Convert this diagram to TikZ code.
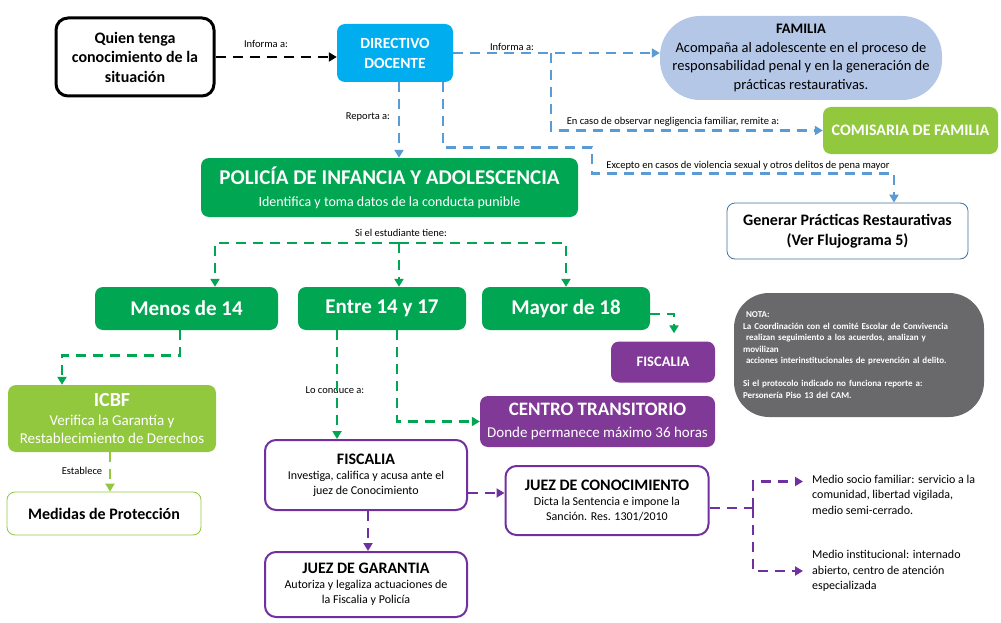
\documentclass[tikz,border=0pt]{standalone}
\usepackage{fontspec}
\setmainfont{Carlito}
\usetikzlibrary{arrows.meta}
\definecolor{verde}{RGB}{0,166,81}
\definecolor{lima}{RGB}{146,200,62}
\definecolor{morado}{RGB}{128,57,150}
\definecolor{lila}{RGB}{112,48,160}
\definecolor{azul}{RGB}{91,155,213}
\definecolor{cian}{RGB}{0,174,239}
\definecolor{celeste}{RGB}{180,199,231}
\definecolor{gris}{RGB}{105,105,107}
\definecolor{borde}{RGB}{65,113,156}

\begin{document}
\begin{tikzpicture}[x=1pt, y=-1pt,
  caja/.style={rounded corners=8pt, inner sep=0pt, align=center},
  llena/.style={caja, text=white},
  marco/.style={caja, draw=lila, line width=2pt, rounded corners=11pt, minimum width=202pt, font=\fontsize{12}{15}\selectfont},
  linea/.style={line width=2.8pt, dash pattern=on 10pt off 7pt},
  flecha/.style={linea, -{Triangle[length=8pt,width=9pt]}},
  etiq/.style={font=\fontsize{10.5}{12}\selectfont, inner sep=1pt},
  texto/.style={anchor=west, align=left, inner sep=0pt, inner xsep=9pt, font=\fontsize{12}{15.5}\selectfont}]
\useasboundingbox (0,0) rectangle (1001,623);

\node (q) [caja, draw, line width=3pt, rounded corners=12pt, minimum width=158pt, minimum height=78pt, font=\fontsize{16}{19.5}\selectfont\bfseries] at (135,57) {Quien tenga\\conocimiento de la\\situación};
\node (dd) [llena, fill=cian, minimum width=116pt, minimum height=58pt, font=\fontsize{15.5}{20}\selectfont\bfseries] at (395,53) {DIRECTIVO\\DOCENTE};
\node (fam) [caja, fill=celeste, rounded corners=40pt, minimum width=282pt, minimum height=84pt, font=\fontsize{14.5}{18.7}\selectfont] at (801,58) {{\bfseries FAMILIA}\\Acompaña al adolescente en el proceso de\\responsabilidad penal y en la generación de\\prácticas restaurativas.};
\node (com) [llena, fill=lima, minimum width=175pt, minimum height=47pt, font=\fontsize{16}{19}\selectfont\bfseries] at (910.5,130.5) {COMISARIA DE FAMILIA};
\node (gpr) [caja, draw=borde, line width=0.8pt, fill=white, minimum width=241pt, minimum height=56pt, font=\fontsize{16}{20}\selectfont\bfseries] at (847.5,231) {Generar Prácticas Restaurativas\\(Ver Flujograma 5)};
\node (pol) [llena, fill=verde, minimum width=377pt, minimum height=59pt, font=\fontsize{14}{22}\selectfont] at (389.5,187.5) {{\fontsize{21}{22}\selectfont\bfseries POLICÍA DE INFANCIA Y ADOLESCENCIA}\\Identifica y toma datos de la conducta punible};

\node (m14) [llena, fill=verde, minimum width=183pt, minimum height=43pt, font=\fontsize{21}{24}\selectfont\bfseries] at (186.5,308.5) {Menos de 14};
\node (e14) [llena, fill=verde, minimum width=168pt, minimum height=43pt, font=\fontsize{21}{24}\selectfont\bfseries] at (382,308.5) {Entre 14 y 17};
\node (m18) [llena, fill=verde, minimum width=168pt, minimum height=43pt, font=\fontsize{21}{24}\selectfont\bfseries] at (566,308.5) {Mayor de 18};

\node (fis1) [llena, fill=morado, minimum width=104pt, minimum height=41pt, font=\fontsize{14.5}{17}\selectfont\bfseries] at (663,362) {FISCALIA};
\node (ct) [llena, fill=morado, minimum width=235pt, minimum height=51pt, font=\fontsize{15}{22}\selectfont] at (597.5,421.5) {{\fontsize{19}{22}\selectfont\bfseries CENTRO TRANSITORIO}\\Donde permanece máximo 36 horas};
\node (icbf) [llena, fill=lima, minimum width=208pt, minimum height=67pt, font=\fontsize{15}{18.5}\selectfont] at (112,418.5) {{\fontsize{20}{18.5}\selectfont\bfseries ICBF}\\Verifica la Garantía y\\Restablecimiento de Derechos};
\node (med) [caja, draw=lima, line width=0.8pt, minimum width=194pt, minimum height=43pt, font=\fontsize{16}{19}\selectfont\bfseries] at (104,513.5) {Medidas de Protección};

\node (fis2) [marco, minimum height=70pt] at (366,475) {{\fontsize{16}{15}\selectfont\bfseries FISCALIA}\\Investiga, califica y acusa ante el\\juez de Conocimiento};
\node (jg) [marco, minimum height=65pt] at (366,584.5) {{\fontsize{16}{15}\selectfont\bfseries JUEZ DE GARANTIA}\\Autoriza y legaliza actuaciones de\\la Fiscalia y Policía};
\node (jc) [marco, minimum width=203pt, minimum height=69pt] at (607,500.5) {{\fontsize{16}{15}\selectfont\bfseries JUEZ DE CONOCIMIENTO}\\Dicta la Sentencia e impone la\\Sanción. Res. 1301/2010};

\node (ms) [texto] at (803,494.5) {Medio socio familiar: servicio a la\\comunidad, libertad vigilada,\\medio semi-cerrado.};
\node (mi) [texto] at (803,571) {Medio institucional: internado\\abierto, centro de atención\\especializada};

\node (nota) [caja, fill=gris, rounded corners=35pt, minimum width=250pt, minimum height=124pt, text=white, align=left, text width=232pt, font=\fontsize{9}{11.5}\selectfont\bfseries] at (859,355) {\ NOTA:\\La Coordinación con el comité Escolar de Convivencia\\\makebox[205pt][s]{\ realizan seguimiento a los acuerdos, analizan y}\\movilizan\\\ acciones interinstitucionales de prevención al delito.\\[11.5pt]Si el protocolo indicado no funciona reporte a:\\Personería Piso 13 del CAM.};

\node (l1) [etiq] at (266,44) {Informa a:};
\node (l2) [etiq] at (512,47) {Informa a:};
\node (l3) [etiq] at (368,117) {Reporta a:};
\node (l4) [etiq] at (673,122) {En caso de observar negligencia familiar, remite a:};
\node (l5) [etiq] at (748,166) {Excepto en casos de violencia sexual y otros delitos de pena mayor};
\node (l6) [etiq] at (401,233) {Si el estudiante tiene:};
\node (l7) [etiq] at (335,390) {Lo conduce a:};
\node (l8) [etiq] at (82,471) {Establece};

\coordinate (b1) at (551,53);
\coordinate (b2) at (399,243);
\coordinate (b3) at (753,508);

\draw [flecha] (q.east) -- (q.east -| dd.west);
\draw [flecha, azul] (dd.east) -- (dd.east -| fam.west);
\draw [flecha, azul] (b1) |- (com.west);
\draw [flecha, azul] ([xshift=4pt]dd.south) -- ([xshift=4pt]dd.south |- pol.north);
\draw [flecha, azul] ([xshift=48pt]dd.south) -- ++(0,65) -| ++(149,26) -| ([xshift=46.5pt]gpr.north);

\draw [flecha, verde] (b2) -| ([xshift=28.5pt]m14.north);
\draw [flecha, verde] (b2) -- ([xshift=17pt]e14.north);
\draw [flecha, verde] (b2) -| (m18.north);
\draw [flecha, verde] ([xshift=-6.5pt]m14.south) -- ++(0,25) -| ([xshift=-50pt]icbf.north);
\draw [flecha, lima] ([xshift=-2pt]icbf.south) -- ([xshift=-2pt]icbf.south |- med.north);
\draw [flecha, verde] ([xshift=-45pt]e14.south) -- ([xshift=-45pt]e14.south |- fis2.north);
\draw [flecha, verde] ([xshift=15pt]e14.south) |- (ct.west);
\draw [flecha, verde] ([yshift=-5.5pt]m18.east) -| ([xshift=11pt,yshift=8pt]fis1.north);

\draw [flecha, lila] ([yshift=-18pt]fis2.east) -- ([yshift=-18pt]fis2.east -| jc.west);
\draw [flecha, lila] ([xshift=2pt]fis2.south) -- ([xshift=2pt]fis2.south |- jg.north);
\draw [linea, lila] ([yshift=-7.5pt]jc.east) -- (b3);
\draw [flecha, lila] (b3) |- ([yshift=13pt]ms.west);
\draw [flecha, lila] (b3) |- (mi.west);
\end{tikzpicture}
\end{document}
